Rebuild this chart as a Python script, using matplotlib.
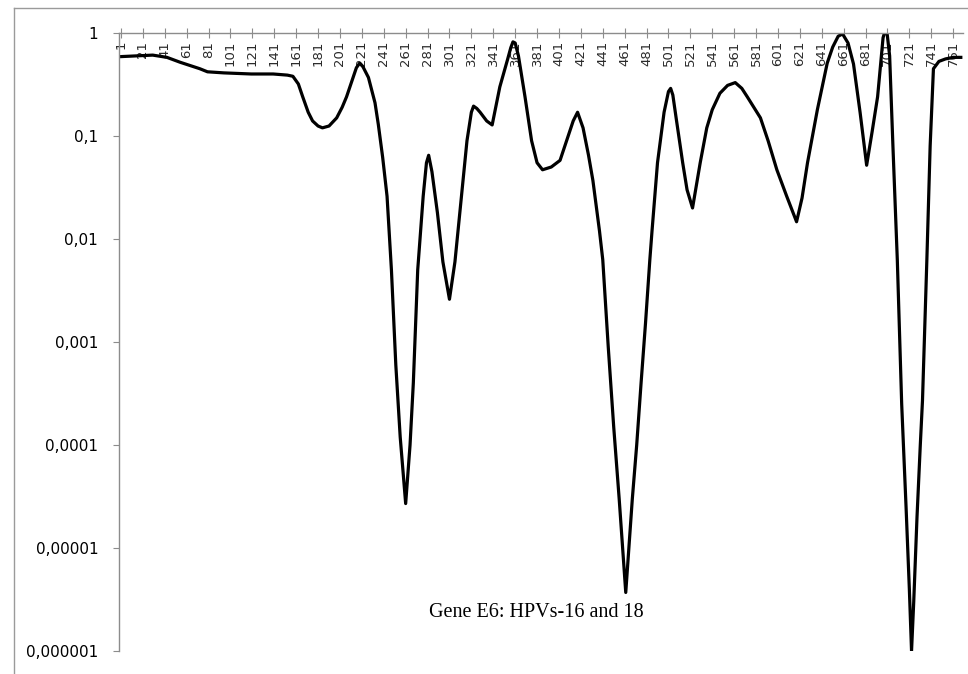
import matplotlib
matplotlib.use("Agg")
import matplotlib.pyplot as plt
from matplotlib.lines import Line2D
from matplotlib.ticker import FixedLocator, FixedFormatter

# position along the gene (nt) and value
positions = [1, 15, 30, 43, 55, 65, 73, 80, 95, 120, 140, 153, 158, 163, 167, 172,
             176, 181, 185, 191, 198, 203, 207, 213, 216, 219, 222, 227, 233, 236, 240,
             244, 248, 252, 256, 261, 265, 268, 272, 277, 280, 282, 285, 290, 295,
             301, 306, 312, 317, 321, 323, 326, 329, 335, 340, 347, 354, 357, 359, 361,
             364, 370, 376, 381, 386, 394, 402, 408, 414, 418, 423, 428, 432, 438,
             441, 446, 451, 456, 462, 468, 472, 476, 480, 484, 486, 491, 497, 501,
             503, 505, 508, 514, 518, 523, 530, 536, 541, 548, 555, 562, 568, 573,
             579, 585, 592, 600, 609, 618, 623, 628, 637, 646, 651, 656, 660, 665,
             670, 676, 682, 687, 692, 697, 700, 703, 706, 710, 714, 718, 721, 723,
             725, 728, 731, 733, 737, 740, 743, 748, 754, 761, 768]
values = [0.59, 0.60, 0.61, 0.58, 0.52, 0.48, 0.45, 0.42, 0.41, 0.40, 0.40, 0.39,
          0.38, 0.32, 0.24, 0.17, 0.14, 0.125, 0.12, 0.125, 0.15, 0.19, 0.24, 0.37,
          0.46, 0.51, 0.47, 0.37, 0.21, 0.13, 0.062, 0.026, 0.005, 6e-4, 1.2e-4,
          2.7e-5, 1e-4, 4e-4, 0.005, 0.026, 0.055, 0.065, 0.045, 0.018, 0.006,
          0.0026, 0.006, 0.026, 0.09, 0.17, 0.195, 0.185, 0.17, 0.14, 0.128, 0.30,
          0.55, 0.72, 0.82, 0.8, 0.6, 0.24, 0.09, 0.055, 0.047, 0.05, 0.058, 0.09,
          0.14, 0.17, 0.12, 0.065, 0.037, 0.012, 0.0063, 9e-4, 1.5e-4, 3e-5,
          3.7e-6, 3e-5, 1e-4, 4e-4, 0.0015, 0.0063, 0.012, 0.055, 0.17, 0.27,
          0.29, 0.25, 0.15, 0.055, 0.03, 0.020, 0.055, 0.12, 0.18, 0.26, 0.31,
          0.33, 0.29, 0.24, 0.19, 0.15, 0.09, 0.047, 0.026, 0.0147, 0.025, 0.055,
          0.18, 0.51, 0.73, 0.93, 0.98, 0.8, 0.5, 0.17, 0.052, 0.11, 0.24, 0.9,
          1.15, 0.6, 0.08, 0.0063, 2.5e-4, 2.5e-5, 4e-6, 1e-6, 3e-6, 2e-5, 1e-4,
          2.7e-4, 0.0063, 0.08, 0.45, 0.53, 0.56, 0.58, 0.58]

x_ticks = list(range(1, 762, 20))
y_ticks = [1e-6, 1e-5, 1e-4, 1e-3, 1e-2, 1e-1, 1]
y_labels = ["0,000001", "0,00001", "0,0001", "0,001", "0,01", "0,1", "1"]
title = "Gene E6: HPVs-16 and 18"

fig = plt.figure(figsize=(9.68, 6.74), dpi=100)
ax = fig.add_axes([119 / 968, 1 - 651 / 674, (963 - 119) / 968, (651 - 33) / 674])

ax.plot(positions, values, color="black", lw=2.3, solid_joinstyle="round")

ax.set_yscale("log")
ax.set_ylim(1e-6, 1)
ax.set_xlim(-0.8, 770)

# category axis sits at y = 1 (top), labels hang below it like in Excel
ax.spines["bottom"].set_position(("axes", 1.0))
ax.spines["top"].set_visible(False)
ax.spines["right"].set_visible(False)
for s in ("bottom", "left"):
    ax.spines[s].set_color("#8c8c8c")
    ax.spines[s].set_linewidth(1.0)

ax.xaxis.set_major_locator(FixedLocator(x_ticks))
ax.xaxis.set_major_formatter(FixedFormatter([str(t) for t in x_ticks]))
ax.tick_params(axis="x", direction="inout", length=7, color="#8c8c8c",
               labelsize=9.5, labelcolor="#2a2a2a", pad=2, labelrotation=90)
for lbl in ax.get_xticklabels():
    lbl.set_verticalalignment("top")

ax.yaxis.set_major_locator(FixedLocator(y_ticks))
ax.yaxis.set_major_formatter(FixedFormatter(y_labels))
ax.yaxis.set_minor_locator(FixedLocator([]))
ax.tick_params(axis="y", direction="out", length=4, color="#8c8c8c",
               labelsize=11, labelcolor="black", pad=11)

ax.text(0.495, 0.063, title, transform=ax.transAxes, ha="center", va="center",
        fontsize=14.5, family="Liberation Serif")

# outer chart frame (left and top edges visible in the scan)
fig.add_artist(Line2D([14 / 968, 14 / 968], [0, 1 - 8 / 674],
                      transform=fig.transFigure, color="#9a9a9a", lw=1.0))
fig.add_artist(Line2D([14 / 968, 1], [1 - 8 / 674, 1 - 8 / 674],
                      transform=fig.transFigure, color="#9a9a9a", lw=1.0))

fig.savefig("out.png", dpi=100)
